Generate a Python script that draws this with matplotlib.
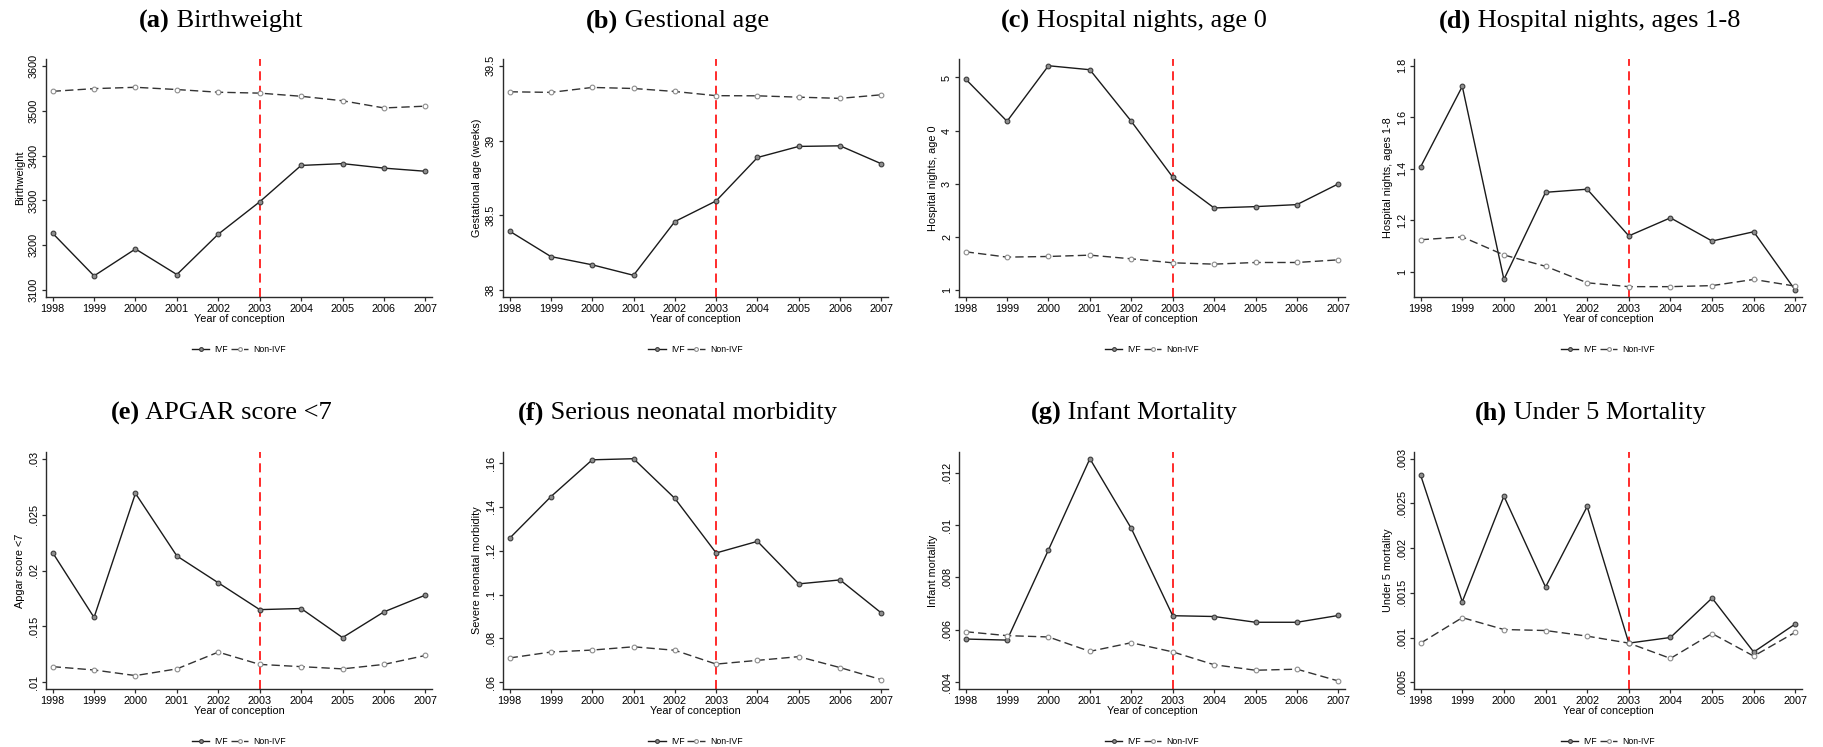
import matplotlib
matplotlib.use("Agg")
import matplotlib.pyplot as plt
from matplotlib.offsetbox import TextArea, HPacker, AnnotationBbox

plt.rcParams['font.family'] = ['Liberation Sans', 'DejaVu Sans']

years = [1998, 1999, 2000, 2001, 2002, 2003, 2004, 2005, 2006, 2007]
reform_year = 2003

# (a) Birthweight
bw_ivf = [3227, 3132, 3192, 3135, 3225, 3297, 3378, 3382, 3372, 3365]
bw_non = [3543, 3549, 3552, 3547, 3541, 3539, 3532, 3522, 3506, 3510]
bw_ticks = [3100, 3200, 3300, 3400, 3500, 3600]
bw_labels = ["3100", "3200", "3300", "3400", "3500", "3600"]

# (b) Gestational age
ga_ivf = [38.395, 38.225, 38.17, 38.10, 38.459, 38.597, 38.887, 38.961, 38.965, 38.845]
ga_non = [39.326, 39.322, 39.355, 39.348, 39.328, 39.30, 39.299, 39.29, 39.282, 39.306]
ga_ticks = [38, 38.5, 39, 39.5]
ga_labels = ["38", "38.5", "39", "39.5"]

# (c) Hospital nights, age 0
hn0_ivf = [4.97, 4.176, 5.22, 5.145, 4.176, 3.126, 2.547, 2.572, 2.61, 3.0]
hn0_non = [1.723, 1.623, 1.635, 1.66, 1.591, 1.516, 1.491, 1.522, 1.522, 1.572]
hn0_ticks = [1, 2, 3, 4, 5]
hn0_labels = ["1", "2", "3", "4", "5"]

# (d) Hospital nights, ages 1-8
hn18_ivf = [1.408, 1.72, 0.971, 1.309, 1.321, 1.14, 1.21, 1.12, 1.156, 0.929]
hn18_non = [1.125, 1.136, 1.066, 1.022, 0.958, 0.943, 0.943, 0.947, 0.971, 0.945]
hn18_ticks = [1, 1.2, 1.4, 1.6, 1.8]
hn18_labels = ["1", "1.2", "1.4", "1.6", "1.8"]

# (e) APGAR score <7
apgar_ivf = [0.0216, 0.0158, 0.0269, 0.0213, 0.0189, 0.0165, 0.0166, 0.0140, 0.0163, 0.0178]
apgar_non = [0.0114, 0.0111, 0.0106, 0.0112, 0.0127, 0.0116, 0.0114, 0.0112, 0.0116, 0.0124]
apgar_ticks = [0.01, 0.015, 0.02, 0.025, 0.03]
apgar_labels = [".01", ".015", ".02", ".025", ".03"]

# (f) Serious neonatal morbidity
morb_ivf = [0.1257, 0.1447, 0.1615, 0.162, 0.1439, 0.119, 0.1243, 0.1049, 0.1067, 0.0916]
morb_non = [0.0711, 0.0738, 0.0747, 0.0762, 0.0746, 0.0683, 0.0700, 0.0717, 0.0667, 0.0612]
morb_ticks = [0.06, 0.08, 0.10, 0.12, 0.14, 0.16]
morb_labels = [".06", ".08", ".1", ".12", ".14", ".16"]

# (g) Infant mortality
inf_ivf = [0.00565, 0.00561, 0.00905, 0.01253, 0.00987, 0.00654, 0.00651, 0.00629, 0.00629, 0.00655]
inf_non = [0.00593, 0.00578, 0.00573, 0.00518, 0.00551, 0.00516, 0.00467, 0.00446, 0.0045, 0.00405]
inf_ticks = [0.004, 0.006, 0.008, 0.010, 0.012]
inf_labels = [".004", ".006", ".008", ".01", ".012"]

# (h) Under 5 mortality
u5_ivf = [0.002815, 0.001401, 0.002581, 0.001565, 0.002466, 0.000938, 0.001001, 0.001442, 0.000838, 0.001153]
u5_non = [0.000938, 0.001223, 0.00109, 0.001079, 0.001016, 0.000938, 0.000767, 0.001045, 0.000793, 0.00106]
u5_ticks = [0.0005, 0.001, 0.0015, 0.002, 0.0025, 0.003]
u5_labels = [".0005", ".001", ".0015", ".002", ".0025", ".003"]

panels = [
    ("(a)", " Birthweight", "Birthweight", bw_ivf, bw_non, bw_ticks, bw_labels),
    ("(b)", " Gestional age", "Gestational age (weeks)", ga_ivf, ga_non, ga_ticks, ga_labels),
    ("(c)", " Hospital nights, age 0", "Hospital nights, age 0", hn0_ivf, hn0_non, hn0_ticks, hn0_labels),
    ("(d)", " Hospital nights, ages 1-8", "Hospital nights, ages 1-8", hn18_ivf, hn18_non, hn18_ticks, hn18_labels),
    ("(e)", " APGAR score <7", "Apgar score <7", apgar_ivf, apgar_non, apgar_ticks, apgar_labels),
    ("(f)", " Serious neonatal morbidity", "Severe neonatal morbidity", morb_ivf, morb_non, morb_ticks, morb_labels),
    ("(g)", " Infant Mortality", "Infant mortality", inf_ivf, inf_non, inf_ticks, inf_labels),
    ("(h)", " Under 5 Mortality", "Under 5 mortality", u5_ivf, u5_non, u5_ticks, u5_labels),
]

W, H = 1823, 747
fig = plt.figure(figsize=(W / 100, H / 100), dpi=100)

# pixel layout of the axes boxes
col_left = [46, 503, 959, 1414]
col_right = [432, 888, 1345, 1802]
row_top = [59, 452]
row_bottom = [297, 689]
title_y = [21, 413]

axis_col = '#2b2b2b'

for i, (tag, name, ylab, ivf, non, ticks, labels) in enumerate(panels):
    r, c = divmod(i, 4)
    l, rt = col_left[c], col_right[c]
    t, b = row_top[r], row_bottom[r]
    ax = fig.add_axes([l / W, 1 - b / H, (rt - l) / W, (b - t) / H])

    ax.plot(years, ivf, color='#1a1a1a', lw=1.0, marker='o', ms=3.4,
            mfc='#8f8f8f', mec='#3a3a3a', mew=0.8, label='IVF', zorder=3)
    ax.plot(years, non, color='#333333', lw=1.0, ls=(0, (6, 3)), marker='o', ms=3.4,
            mfc='white', mec='#8c8c8c', mew=0.8, label='Non-IVF', zorder=3)
    ax.axvline(reform_year, color='#ff1a1a', lw=1.3, ls=(0, (5, 3)), zorder=2)

    lo = min(ticks[0], min(ivf), min(non))
    hi = max(ticks[-1], max(ivf), max(non))
    pad = (hi - lo) * 0.03
    ax.set_ylim(lo - pad, hi + pad)
    ax.set_xlim(1997.84, 2007.16)

    ax.set_xticks(years)
    ax.set_xticklabels([str(y) for y in years])
    ax.set_yticks(ticks)
    ax.set_yticklabels(labels, rotation=90, va='center')

    for side in ['top', 'right']:
        ax.spines[side].set_visible(False)
    for side in ['left', 'bottom']:
        ax.spines[side].set_color(axis_col)
        ax.spines[side].set_linewidth(1.0)
    ax.tick_params(axis='both', direction='out', length=3, width=0.9,
                   color=axis_col, labelsize=7.8, pad=2)

    ax.set_xlabel('Year of conception', fontsize=7.8, labelpad=0)
    ax.set_ylabel(ylab, fontsize=7.8, labelpad=3)

    ax.legend(loc='upper center', bbox_to_anchor=(0.5, -0.17), ncol=2, frameon=False,
              fontsize=6.3, handlelength=2.0, handletextpad=0.6, columnspacing=0.3,
              numpoints=1, markerscale=0.8)

    # title: bold panel tag followed by regular text, Times-like
    tprops_b = dict(fontsize=19, family='Liberation Serif', fontweight='bold')
    tprops_r = dict(fontsize=19, family='Liberation Serif')
    box = HPacker(children=[TextArea(tag, textprops=tprops_b),
                            TextArea(name, textprops=tprops_r)],
                  align='baseline', pad=0, sep=0)
    xc = ((l + rt) / 2 - 18) / W
    ab = AnnotationBbox(box, (xc, 1 - title_y[r] / H), xycoords='figure fraction',
                        frameon=False, box_alignment=(0.5, 0.5))
    fig.add_artist(ab)

fig.savefig('out.png', dpi=100, facecolor='white')
